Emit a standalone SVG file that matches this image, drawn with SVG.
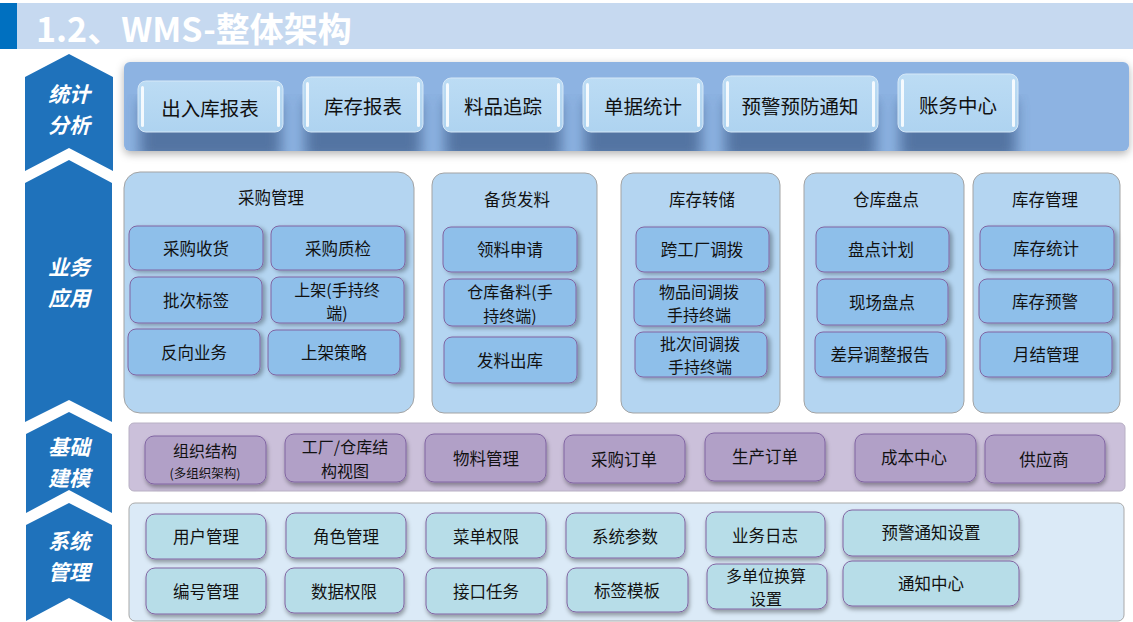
<svg xmlns="http://www.w3.org/2000/svg" width="1133" height="622" viewBox="0 0 1133 622">
<style>
.t{font-family:"Noto Sans CJK SC","Noto Sans",sans-serif;fill:#111;text-anchor:middle;dominant-baseline:central;font-size:16.5px}
.t2{font-size:16px}
.bt{font-size:19.5px}
.sm{font-size:12.5px}
.chev{fill:#1f72bb}
.ct{font-family:"Noto Sans CJK SC",sans-serif;fill:#fff;font-weight:bold;font-style:italic;font-size:21px;text-anchor:middle;dominant-baseline:central}
.bp{fill:#b4d5f1;stroke:#a3a3a3;stroke-width:1}
.sb{fill:#8ebfea;stroke:#8064a2;stroke-width:1;filter:url(#ds)}
.mb{fill:#b1a0c7;stroke:#8064a2;stroke-width:1;filter:url(#ds2)}
.yb{fill:#b7dde8;stroke:#8064a2;stroke-width:1;filter:url(#ds2)}
.btn{fill:url(#bg);stroke:#d6e8f7;stroke-width:1}
.hl{fill:#ffffff;opacity:0.85}
</style>
<defs>
<filter id="ds" x="-10%" y="-20%" width="130%" height="150%">
<feDropShadow dx="3" dy="2" stdDeviation="2" flood-color="#000" flood-opacity="0.3"/>
</filter>
<filter id="ds2" x="-10%" y="-20%" width="130%" height="160%">
<feDropShadow dx="1" dy="3" stdDeviation="2" flood-color="#000" flood-opacity="0.35"/>
</filter>
<filter id="pshadow" x="-5%" y="-20%" width="110%" height="150%">
<feDropShadow dx="0" dy="3" stdDeviation="4" flood-color="#000" flood-opacity="0.3"/>
</filter>
<filter id="blur"><feGaussianBlur stdDeviation="7"/></filter>
<linearGradient id="bg" x1="0" y1="0" x2="0" y2="1">
<stop offset="0" stop-color="#bcdcf4"/>
<stop offset="1" stop-color="#aed3f0"/>
</linearGradient>
<clipPath id="pclip"><rect x="124" y="62" width="1005" height="89" rx="6"/></clipPath>
</defs>

<rect width="1133" height="622" fill="#ffffff"/>

<g id="title">
<rect x="17" y="3" width="1116" height="46" fill="#c6d9f0"/>
<rect x="0" y="3" width="17" height="46" fill="#0070c0"/>
<text x="36" y="27" style="font-family:'Noto Sans CJK SC',sans-serif;font-weight:bold;font-size:34px;fill:#fff;dominant-baseline:central">1.2、WMS-整体架构</text>
</g>

<g id="layers">
<g id="layer-stats"><path class="chev" d="M25,77 L69,54 L113,77 L113,171 L69,148 L25,171 Z"/><text class="ct"><tspan x="69" y="93">统计</tspan><tspan x="69" y="124">分析</tspan></text></g>
<g id="layer-business"><path class="chev" d="M25,183 L69,160 L112,183 L112,422 L69,400 L25,422 Z"/><text class="ct"><tspan x="69" y="266">业务</tspan><tspan x="69" y="297">应用</tspan></text></g>
<g id="layer-base"><path class="chev" d="M26,434 L69,412 L112,434 L112,513 L69,490 L26,513 Z"/><text class="ct"><tspan x="69" y="446">基础</tspan><tspan x="69" y="477">建模</tspan></text></g>
<g id="layer-system"><path class="chev" d="M26,525 L69,503 L112,525 L112,621 L69,598 L26,621 Z"/><text class="ct"><tspan x="69" y="540">系统</tspan><tspan x="69" y="571">管理</tspan></text></g>
</g>

<g id="stats-panel">
<rect x="124" y="62" width="1005" height="89" rx="6" fill="#8db3e2" filter="url(#pshadow)"/>
<g clip-path="url(#pclip)" filter="url(#blur)" fill="#3f5f8c" opacity="0.75">
<rect x="140" y="100" width="141" height="60"/>
<rect x="305" y="100" width="116" height="60"/>
<rect x="445" y="100" width="116" height="60"/>
<rect x="585" y="100" width="116" height="60"/>
<rect x="725" y="100" width="151" height="60"/>
<rect x="900" y="100" width="116" height="60"/>
</g>
</g>

<g id="n-churuku"><rect class="btn" x="138" y="81" width="145" height="51" rx="8"/><rect class="hl" x="141" y="86" width="3" height="41" rx="1.5"/><rect class="hl" x="277" y="86" width="3" height="41" rx="1.5"/><text class="t bt" x="210" y="107">出入库报表</text></g>
<g id="n-kucunbaobiao"><rect class="btn" x="303" y="77" width="120" height="55" rx="8"/><rect class="hl" x="306" y="82" width="3" height="45" rx="1.5"/><rect class="hl" x="417" y="82" width="3" height="45" rx="1.5"/><text class="t bt" x="363" y="105">库存报表</text></g>
<g id="n-liaopin"><rect class="btn" x="443" y="78" width="120" height="54" rx="8"/><rect class="hl" x="446" y="83" width="3" height="44" rx="1.5"/><rect class="hl" x="557" y="83" width="3" height="44" rx="1.5"/><text class="t bt" x="503" y="105">料品追踪</text></g>
<g id="n-danju"><rect class="btn" x="583" y="78" width="120" height="54" rx="8"/><rect class="hl" x="586" y="83" width="3" height="44" rx="1.5"/><rect class="hl" x="697" y="83" width="3" height="44" rx="1.5"/><text class="t bt" x="643" y="105">单据统计</text></g>
<g id="n-yujing"><rect class="btn" x="723" y="76" width="155" height="56" rx="8"/><rect class="hl" x="726" y="81" width="3" height="46" rx="1.5"/><rect class="hl" x="872" y="81" width="3" height="46" rx="1.5"/><text class="t bt" x="800" y="105">预警预防通知</text></g>
<g id="n-zhangwu"><rect class="btn" x="898" y="74" width="120" height="58" rx="8"/><rect class="hl" x="901" y="79" width="3" height="48" rx="1.5"/><rect class="hl" x="1012" y="79" width="3" height="48" rx="1.5"/><text class="t bt" x="958" y="104">账务中心</text></g>

<g id="g-caigou">
<rect class="bp" x="124" y="172" width="290" height="241" rx="16"/>
<text class="t" x="271" y="197">采购管理</text>
<g id="n-cgsh"><rect class="sb" x="129" y="226" width="134" height="44" rx="8"/><text class="t" x="196" y="248">采购收货</text></g>
<g id="n-cgzj"><rect class="sb" x="271" y="226" width="134" height="44" rx="8"/><text class="t" x="338" y="248">采购质检</text></g>
<g id="n-pcbq"><rect class="sb" x="130" y="277" width="132" height="46" rx="8"/><text class="t" x="196" y="300">批次标签</text></g>
<g id="n-sj"><rect class="sb" x="271" y="277" width="133" height="46" rx="8"/><text class="t t2"><tspan x="337" y="288.5">上架(手持终</tspan><tspan x="337" y="312">端)</tspan></text></g>
<g id="n-fxyw"><rect class="sb" x="128" y="329" width="132" height="46" rx="8"/><text class="t" x="194" y="352">反向业务</text></g>
<g id="n-sjcl"><rect class="sb" x="268" y="330" width="132" height="45" rx="8"/><text class="t" x="334" y="352">上架策略</text></g>
</g>

<g id="g-beihuo">
<rect class="bp" x="432" y="173" width="165" height="240" rx="12"/>
<text class="t" x="517" y="199">备货发料</text>
<g id="n-llsq"><rect class="sb" x="443" y="227" width="134" height="45" rx="8"/><text class="t" x="510" y="249">领料申请</text></g>
<g id="n-ckbl"><rect class="sb" x="444" y="279" width="132" height="47" rx="8"/><text class="t t2"><tspan x="510" y="291">仓库备料(手</tspan><tspan x="510" y="314.5">持终端)</tspan></text></g>
<g id="n-flck"><rect class="sb" x="444" y="337" width="133" height="46" rx="8"/><text class="t" x="510" y="360">发料出库</text></g>
</g>

<g id="g-zhuanchu">
<rect class="bp" x="621" y="173" width="159" height="240" rx="12"/>
<text class="t" x="702" y="199">库存转储</text>
<g id="n-kgc"><rect class="sb" x="636" y="227" width="133" height="45" rx="8"/><text class="t" x="702" y="249">跨工厂调拨</text></g>
<g id="n-wpj"><rect class="sb" x="634" y="279" width="131" height="47" rx="8"/><text class="t t2"><tspan x="699" y="290.5">物品间调拨</tspan><tspan x="699" y="314">手持终端</tspan></text></g>
<g id="n-pcj"><rect class="sb" x="635" y="332" width="132" height="45" rx="8"/><text class="t t2"><tspan x="700" y="342.5">批次间调拨</tspan><tspan x="700" y="366">手持终端</tspan></text></g>
</g>

<g id="g-pandian">
<rect class="bp" x="804" y="173" width="160" height="240" rx="12"/>
<text class="t" x="886" y="199">仓库盘点</text>
<g id="n-pdjh"><rect class="sb" x="816" y="227" width="133" height="45" rx="8"/><text class="t" x="881" y="249">盘点计划</text></g>
<g id="n-xcpd"><rect class="sb" x="817" y="279" width="131" height="46" rx="8"/><text class="t" x="882" y="302">现场盘点</text></g>
<g id="n-cytz"><rect class="sb" x="815" y="332" width="131" height="45" rx="8"/><text class="t" x="880" y="354">差异调整报告</text></g>
</g>

<g id="g-kucun">
<rect class="bp" x="973" y="173" width="147" height="240" rx="12"/>
<text class="t" x="1045" y="199">库存管理</text>
<g id="n-kctj"><rect class="sb" x="980" y="226" width="134" height="44" rx="8"/><text class="t" x="1046" y="248">库存统计</text></g>
<g id="n-kcyj"><rect class="sb" x="979" y="279" width="134" height="44" rx="8"/><text class="t" x="1045" y="301">库存预警</text></g>
<g id="n-yjgl"><rect class="sb" x="980" y="332" width="132" height="45" rx="8"/><text class="t" x="1046" y="354">月结管理</text></g>
</g>

<g id="base-panel">
<rect x="129" y="423" width="996" height="68" rx="5" fill="#cbc0da" stroke="#b8b0c4" stroke-width="1"/>
</g>
<g id="n-zzjg"><rect class="mb" x="145" y="436" width="121" height="48" rx="9"/><text class="t t2"><tspan x="205" y="450">组织结构</tspan><tspan class="sm" x="205" y="471.5">(多组织架构)</tspan></text></g>
<g id="n-gc"><rect class="mb" x="285" y="434" width="121" height="48" rx="9"/><text class="t t2"><tspan x="345" y="446">工厂/仓库结</tspan><tspan x="345" y="469.5">构视图</tspan></text></g>
<g id="n-wlgl"><rect class="mb" x="425" y="434" width="121" height="48" rx="9"/><text class="t" x="486" y="458">物料管理</text></g>
<g id="n-cgdd"><rect class="mb" x="564" y="435" width="121" height="48" rx="9"/><text class="t" x="624" y="459">采购订单</text></g>
<g id="n-scdd"><rect class="mb" x="705" y="433" width="120" height="48" rx="9"/><text class="t" x="765" y="456">生产订单</text></g>
<g id="n-cbzx"><rect class="mb" x="855" y="434" width="121" height="48" rx="9"/><text class="t" x="914" y="457">成本中心</text></g>
<g id="n-gys"><rect class="mb" x="985" y="435" width="120" height="48" rx="9"/><text class="t" x="1044" y="459">供应商</text></g>

<g id="system-panel">
<rect x="129" y="503" width="995" height="118" rx="6" fill="#dbeaf7" stroke="#a9a9a9" stroke-width="1"/>
</g>
<g id="n-yhgl"><rect class="yb" x="146" y="514" width="120" height="45" rx="9"/><text class="t" x="206" y="536">用户管理</text></g>
<g id="n-jsgl"><rect class="yb" x="286" y="513" width="120" height="45" rx="9"/><text class="t" x="346" y="536">角色管理</text></g>
<g id="n-cdqx"><rect class="yb" x="426" y="513" width="120" height="45" rx="9"/><text class="t" x="486" y="536">菜单权限</text></g>
<g id="n-xtcs"><rect class="yb" x="566" y="513" width="119" height="45" rx="9"/><text class="t" x="625" y="536">系统参数</text></g>
<g id="n-ywrz"><rect class="yb" x="706" y="512" width="119" height="45" rx="9"/><text class="t" x="765" y="535">业务日志</text></g>
<g id="n-yjtz"><rect class="yb" x="843" y="510" width="176" height="46" rx="9"/><text class="t" x="931" y="532">预警通知设置</text></g>
<g id="n-bhgl"><rect class="yb" x="146" y="568" width="120" height="46" rx="9"/><text class="t" x="206" y="591">编号管理</text></g>
<g id="n-sjqx"><rect class="yb" x="285" y="568" width="119" height="45" rx="9"/><text class="t" x="344" y="591">数据权限</text></g>
<g id="n-jkrw"><rect class="yb" x="426" y="568" width="121" height="46" rx="9"/><text class="t" x="486" y="591">接口任务</text></g>
<g id="n-bqmb"><rect class="yb" x="567" y="568" width="121" height="44" rx="9"/><text class="t" x="627" y="590">标签模板</text></g>
<g id="n-ddw"><rect class="yb" x="707" y="564" width="120" height="45" rx="9"/><text class="t t2"><tspan x="766" y="574.5">多单位换算</tspan><tspan x="766" y="598">设置</tspan></text></g>
<g id="n-tzzx"><rect class="yb" x="843" y="561" width="176" height="45" rx="9"/><text class="t" x="931" y="583">通知中心</text></g>
</svg>
